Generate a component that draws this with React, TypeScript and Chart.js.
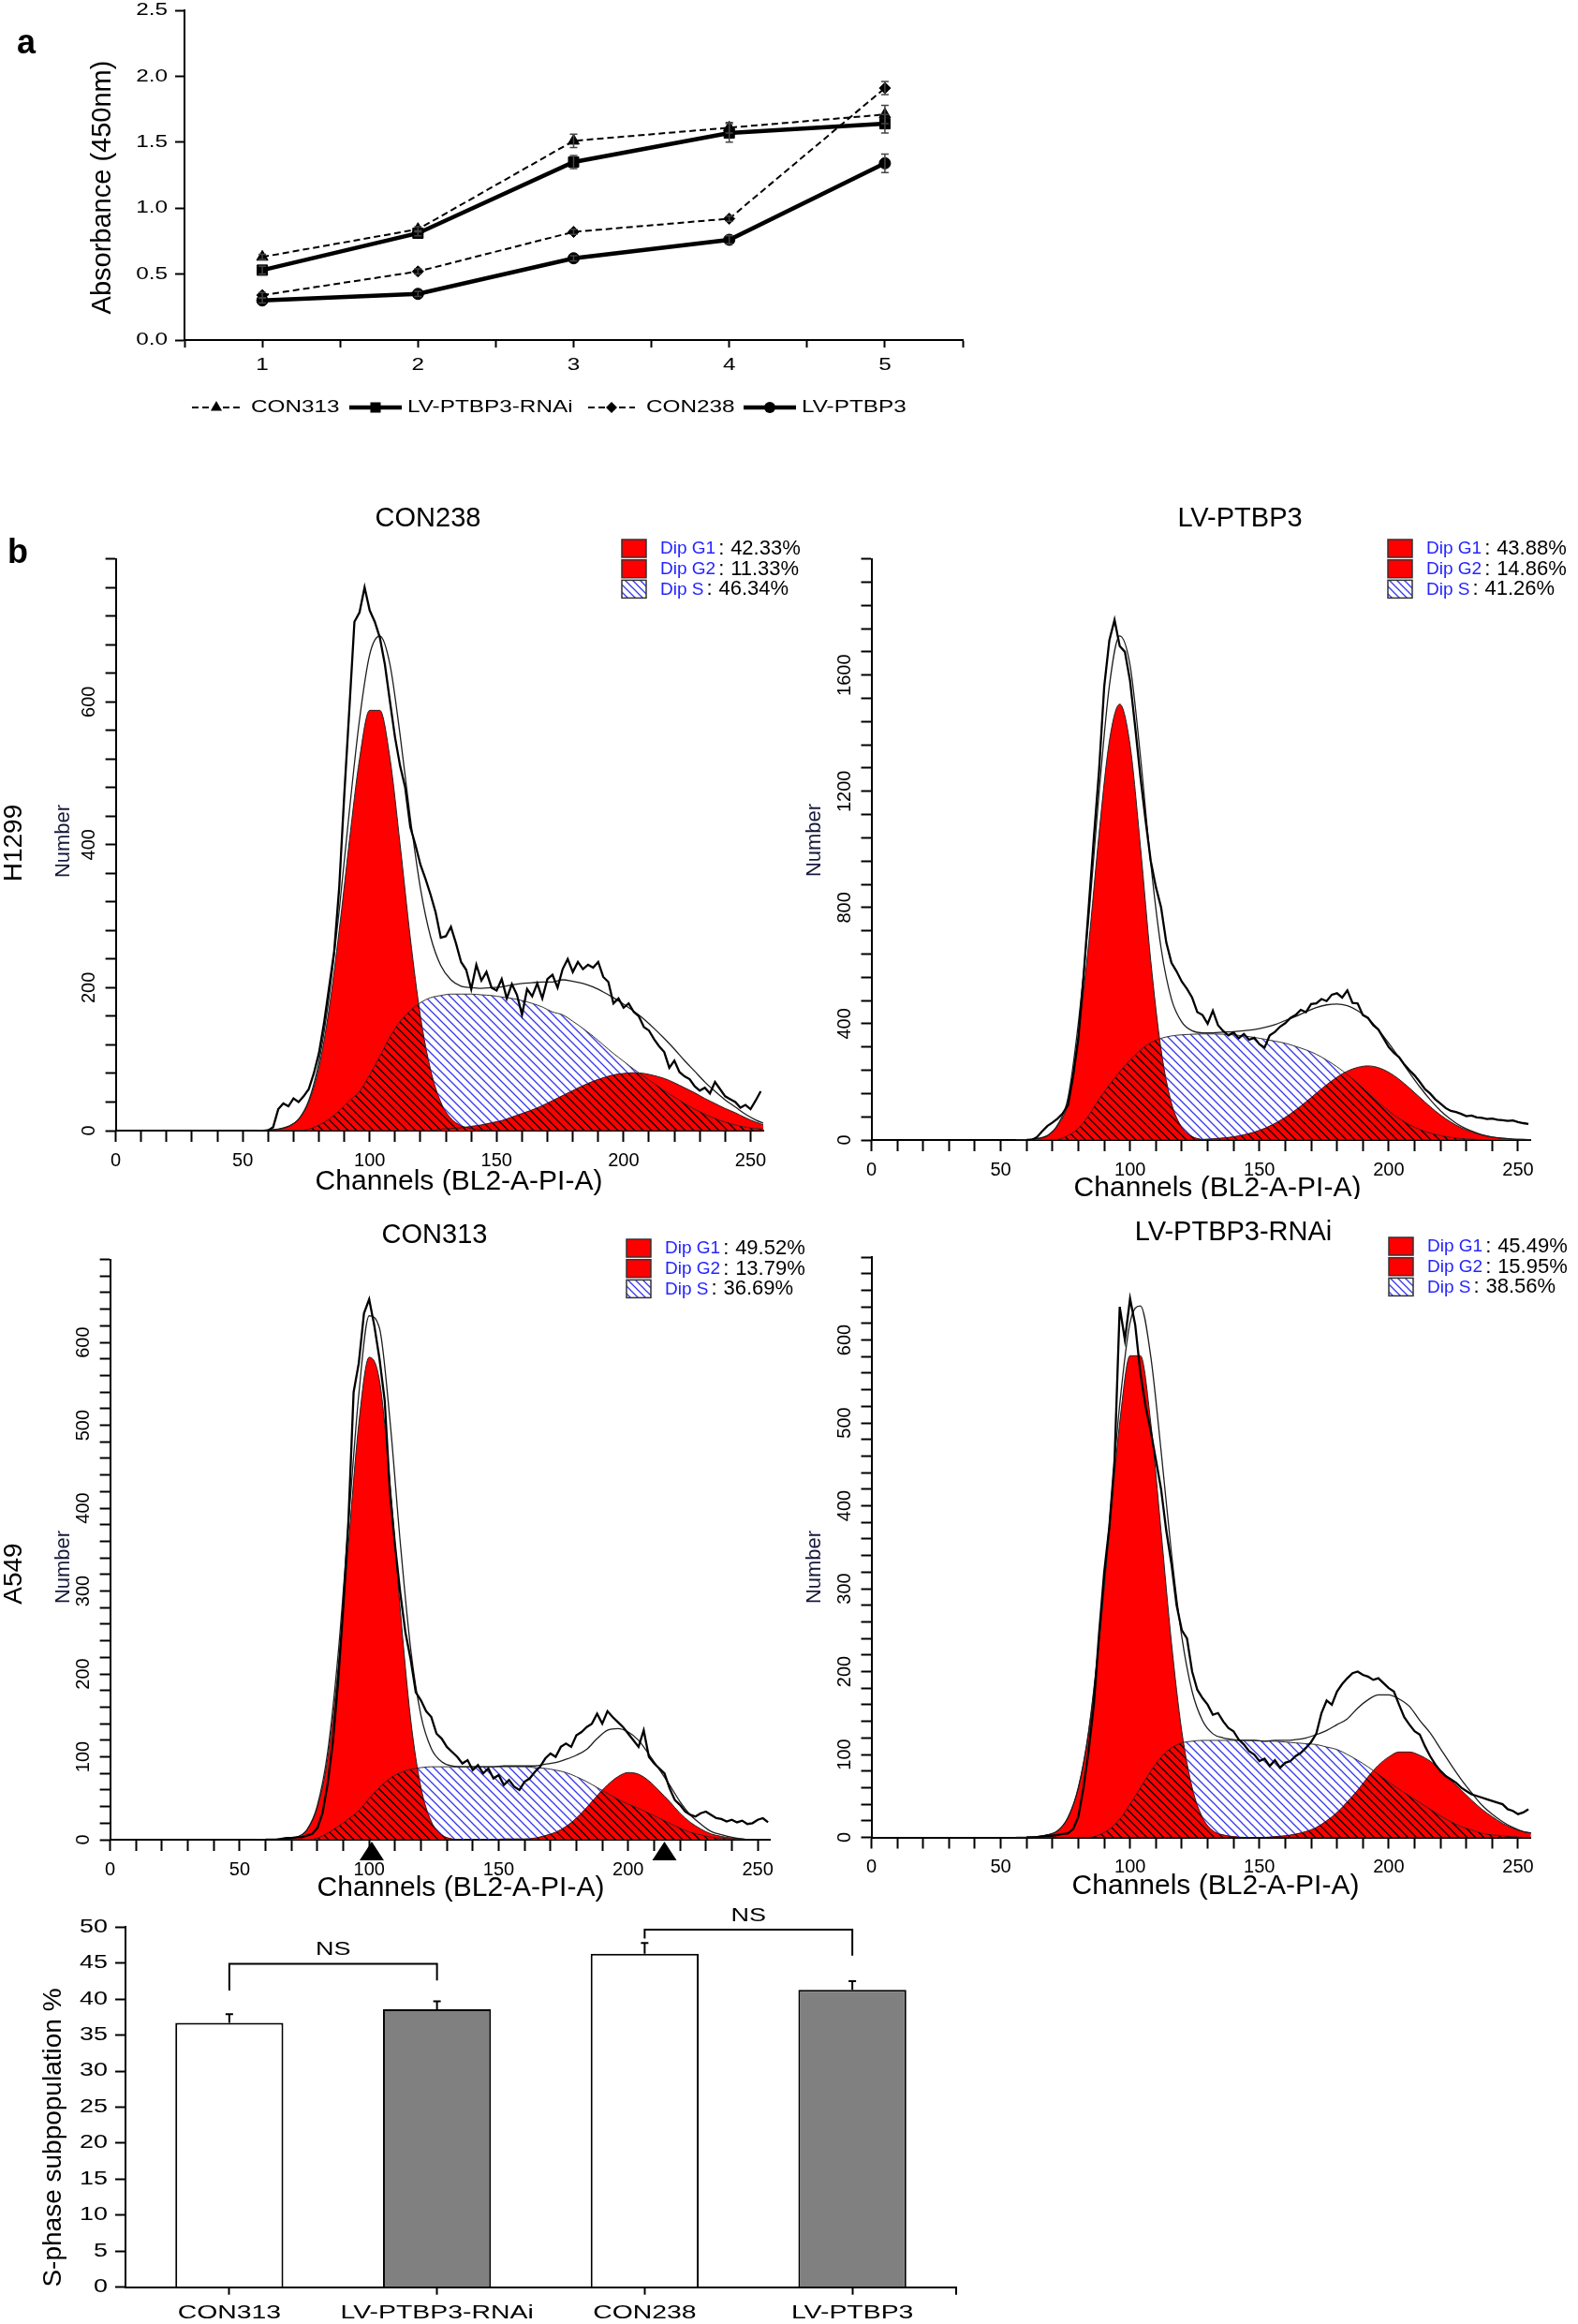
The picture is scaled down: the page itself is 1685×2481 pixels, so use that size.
import React, { useEffect, useRef } from 'react';
import { Chart, registerables } from 'chart.js';

Chart.register(...registerables);

const FONT = '"Liberation Sans", Arial, Helvetica, sans-serif';
Chart.defaults.font.family = FONT;
Chart.defaults.color = '#000';

/* ================= Panel a : growth curves ================= */
const DAYS = [1, 2, 3, 4, 5];
const OD_CON313 = [0.63, 0.84, 1.51, 1.61, 1.71];
const ERR_CON313 = [0.02, 0.02, 0.05, 0.04, 0.07];
const OD_RNAI = [0.53, 0.81, 1.35, 1.57, 1.64];
const ERR_RNAI = [0.03, 0.02, 0.05, 0.07, 0.07];
const OD_CON238 = [0.34, 0.52, 0.82, 0.92, 1.91];
const ERR_CON238 = [0.02, 0.02, 0.02, 0.02, 0.05];
const OD_LV = [0.3, 0.35, 0.62, 0.76, 1.34];
const ERR_LV = [0.02, 0.02, 0.02, 0.03, 0.07];
const OD_TICKS = [0, 0.5, 1, 1.5, 2, 2.5];

/* ================= Panel b : DNA histograms ================= */
const CHANNEL_TICKS = [0, 10, 20, 30, 40, 50, 60, 70, 80, 90, 100, 110, 120, 130, 140, 150, 160, 170, 180, 190, 200, 210, 220, 230, 240, 250];
const CH_FIT = [56, 60, 64, 68, 72, 76, 80, 84, 88, 92, 96, 100, 104, 108, 112, 116, 120, 124, 128, 132, 136, 140, 144, 148, 152, 156, 160, 164, 168, 172, 176, 180, 184, 188, 192, 196, 200, 204, 208, 212, 216, 220, 224, 228, 232, 236, 240, 244, 248, 252, 256];
const CH_RAW = [60, 62, 64, 66, 68, 70, 72, 74, 76, 78, 80, 82, 84, 86, 88, 90, 92, 94, 96, 98, 100, 102, 104, 106, 108, 110, 112, 114, 116, 118, 120, 122, 124, 126, 128, 130, 132, 134, 136, 138, 140, 142, 144, 146, 148, 150, 152, 154, 156, 158, 160, 162, 164, 166, 168, 170, 172, 174, 176, 178, 180, 182, 184, 186, 188, 190, 192, 194, 196, 198, 200, 202, 204, 206, 208, 210, 212, 214, 216, 218, 220, 222, 224, 226, 228, 230, 232, 234, 236, 238, 240, 242, 244, 246, 248, 250, 252, 254];
const PHASE_LABELS = ['Dip G1', 'Dip G2', 'Dip S'];

// H1299 CON238
const CON238_PCT = [42.33, 11.33, 46.34];
const CON238_G1 = [0, 1, 2, 6, 16, 40, 88, 170, 280, 405, 520, 588, 588, 521, 400, 270, 160, 85, 40, 17, 7, 3, 1, 0, 0, 0, 0, 0, 0, 0, 0, 0, 0, 0, 0, 0, 0, 0, 0, 0, 0, 0, 0, 0, 0, 0, 0, 0, 0, 0, 0];
const CON238_S = [0, 0, 0, 0, 0, 2, 8, 16, 28, 42, 55, 78, 104, 131, 153, 168, 179, 186, 189, 191, 191, 191, 190, 189, 187, 185, 182, 178, 173, 166, 162, 153, 143, 132, 120, 108, 97, 86, 76, 66, 56, 47, 38, 30, 23, 17, 12, 8, 5, 3, 2];
const CON238_G2 = [0, 0, 0, 0, 0, 0, 0, 0, 0, 0, 0, 0, 0, 0, 0, 0, 0, 0, 2, 3, 4, 6, 8, 11, 14, 19, 24, 29, 35, 42, 49, 56, 63, 69, 74, 78, 80, 81, 80, 77, 73, 67, 60, 53, 45, 38, 31, 25, 18, 12, 7];
const CON238_FIT = [0, 1, 2, 6, 16, 42, 96, 186, 308, 447, 575, 666, 692, 652, 553, 438, 339, 271, 231, 211, 202, 200, 199, 200, 201, 204, 206, 207, 208, 208, 211, 209, 206, 201, 194, 186, 177, 167, 156, 143, 129, 114, 98, 83, 68, 55, 43, 33, 23, 15, 9];
const CON238_RAW = [0, 5, 30, 38, 34, 45, 40, 48, 58, 80, 108, 150, 200, 250, 340, 470, 590, 712, 725, 760, 728, 712, 690, 652, 600, 550, 510, 480, 425, 400, 372, 352, 330, 305, 270, 272, 285, 262, 236, 225, 198, 232, 210, 222, 200, 196, 212, 185, 205, 190, 162, 198, 188, 206, 185, 212, 218, 200, 226, 240, 222, 236, 226, 232, 228, 236, 215, 208, 178, 185, 172, 178, 166, 160, 145, 140, 128, 118, 110, 88, 98, 82, 76, 72, 62, 56, 60, 52, 68, 58, 48, 44, 40, 32, 36, 30, 42, 55];

// H1299 LV-PTBP3
const LV_PCT = [43.88, 14.86, 41.26];
const LV_G1 = [0, 1, 5, 15, 50, 130, 363, 675, 1053, 1373, 1500, 1359, 1011, 617, 310, 127, 44, 12, 2, 0, 0, 0, 0, 0, 0, 0, 0, 0, 0, 0, 0, 0, 0, 0, 0, 0, 0, 0, 0, 0, 0, 0, 0, 0, 0, 0, 0, 0, 0, 0, 0];
const LV_S = [0, 0, 0, 0, 2, 15, 40, 85, 140, 190, 235, 275, 310, 335, 350, 358, 362, 364, 365, 365, 364, 362, 358, 353, 347, 340, 333, 322, 310, 295, 275, 252, 225, 195, 163, 130, 100, 74, 53, 36, 24, 15, 9, 5, 3, 1, 0, 0, 0, 0, 0];
const LV_G2 = [0, 0, 0, 0, 0, 0, 0, 0, 0, 0, 0, 0, 0, 0, 0, 0, 0, 0, 2, 4, 7, 11, 18, 27, 40, 57, 78, 103, 131, 161, 190, 216, 237, 250, 255, 249, 233, 209, 179, 147, 115, 86, 62, 42, 28, 17, 10, 6, 3, 2, 1];
const LV_FIT = [0, 1, 5, 15, 52, 145, 403, 760, 1193, 1563, 1735, 1634, 1321, 952, 660, 485, 406, 376, 369, 369, 371, 373, 376, 380, 387, 397, 411, 425, 441, 456, 465, 468, 462, 445, 418, 379, 333, 283, 232, 183, 139, 101, 71, 47, 31, 18, 10, 6, 3, 2, 1];
const LV_RAW = [0, 0, 10, 30, 48, 60, 74, 92, 120, 220, 350, 560, 800, 1040, 1270, 1560, 1720, 1790, 1700, 1680, 1580, 1420, 1250, 1100, 960, 870, 800, 680, 610, 580, 545, 520, 490, 440, 430, 400, 445, 395, 375, 360, 370, 350, 365, 345, 352, 330, 318, 360, 372, 390, 402, 420, 430, 448, 440, 468, 470, 485, 478, 500, 505, 490, 515, 472, 470, 430, 420, 395, 380, 350, 320, 300, 285, 260, 240, 222, 200, 175, 160, 140, 125, 110, 100, 96, 90, 82, 84, 78, 76, 72, 74, 70, 68, 66, 67, 62, 58, 55];

// A549 CON313
const CON313_PCT = [49.52, 13.79, 36.69];
const CON313_G1 = [0, 0, 0, 1, 3, 12, 39, 98, 207, 356, 502, 582, 554, 433, 278, 146, 63, 22, 6, 1, 0, 0, 0, 0, 0, 0, 0, 0, 0, 0, 0, 0, 0, 0, 0, 0, 0, 0, 0, 0, 0, 0, 0, 0, 0, 0, 0, 0, 0, 0, 0];
const CON313_S = [0, 0, 0, 0, 0, 0, 2, 8, 16, 25, 35, 50, 63, 74, 81, 85, 87, 88, 88, 88, 88, 88, 88, 88, 88, 88, 88, 87, 86, 84, 81, 76, 70, 63, 56, 49, 43, 38, 32, 26, 20, 14, 9, 6, 3, 2, 1, 0, 0, 0, 0];
const CON313_G2 = [0, 0, 0, 0, 0, 0, 0, 0, 0, 0, 0, 0, 0, 0, 0, 0, 0, 0, 0, 0, 0, 0, 0, 0, 1, 1, 1, 2, 5, 9, 16, 26, 39, 53, 66, 76, 81, 79, 71, 59, 46, 32, 21, 13, 7, 4, 2, 1, 0, 0, 0];
const CON313_FIT = [0, 0, 0, 1, 3, 12, 41, 106, 223, 381, 537, 632, 617, 507, 359, 231, 150, 110, 94, 89, 88, 88, 88, 88, 89, 89, 89, 89, 91, 93, 97, 102, 109, 122, 132, 134, 130, 120, 103, 85, 66, 46, 30, 19, 10, 6, 3, 1, 0, 0, 0];
const CON313_RAW = [0, 0, 0, 1, 2, 2, 3, 3, 5, 7, 14, 32, 68, 118, 190, 280, 385, 540, 575, 635, 652, 620, 580, 530, 420, 355, 298, 250, 218, 178, 168, 155, 148, 128, 122, 112, 106, 100, 92, 96, 84, 90, 80, 86, 74, 78, 66, 72, 64, 60, 70, 74, 82, 88, 98, 104, 100, 112, 116, 112, 126, 130, 136, 140, 152, 140, 155, 148, 142, 136, 128, 120, 112, 132, 100, 92, 86, 80, 62, 48, 42, 34, 30, 28, 32, 34, 30, 26, 25, 22, 24, 21, 23, 19, 20, 24, 26, 21];
const CON313_MARKERS = [101, 214];

// A549 LV-PTBP3-RNAi
const RNAI_PCT = [45.49, 15.95, 38.56];
const RNAI_G1 = [0, 0, 1, 3, 8, 24, 60, 128, 235, 369, 500, 581, 581, 500, 369, 235, 128, 60, 24, 8, 3, 1, 0, 0, 0, 0, 0, 0, 0, 0, 0, 0, 0, 0, 0, 0, 0, 0, 0, 0, 0, 0, 0, 0, 0, 0, 0, 0, 0, 0, 0];
const RNAI_S = [0, 0, 0, 0, 0, 0, 0, 0, 3, 10, 22, 40, 60, 80, 97, 108, 114, 116, 117, 117, 117, 117, 117, 117, 116, 116, 115, 114, 113, 112, 109, 106, 100, 93, 85, 76, 67, 58, 50, 42, 34, 26, 19, 13, 9, 5, 3, 2, 1, 0, 0];
const RNAI_G2 = [0, 0, 0, 0, 0, 0, 0, 0, 0, 0, 0, 0, 0, 0, 0, 0, 0, 0, 0, 0, 0, 0, 0, 0, 0, 1, 2, 4, 7, 12, 20, 30, 43, 57, 73, 87, 97, 103, 103, 99, 92, 81, 69, 57, 45, 34, 25, 17, 11, 7, 5];
const RNAI_FIT = [0, 0, 1, 3, 8, 24, 60, 128, 238, 379, 522, 621, 641, 580, 466, 343, 242, 176, 141, 125, 120, 118, 117, 117, 116, 117, 117, 118, 120, 124, 129, 136, 143, 156, 166, 172, 172, 167, 158, 141, 126, 107, 88, 70, 54, 39, 28, 19, 12, 7, 5];
const RNAI_RAW = [0, 0, 0, 1, 2, 2, 3, 4, 5, 10, 25, 60, 105, 160, 245, 320, 375, 455, 640, 600, 650, 618, 560, 520, 490, 455, 420, 370, 330, 280, 250, 240, 200, 178, 168, 160, 148, 150, 140, 132, 128, 118, 112, 104, 100, 92, 95, 86, 93, 84, 90, 92, 98, 102, 108, 115, 125, 150, 165, 160, 176, 185, 192, 198, 200, 196, 194, 190, 192, 186, 180, 176, 160, 145, 136, 128, 124, 110, 98, 88, 80, 74, 70, 66, 60, 56, 52, 50, 48, 46, 44, 42, 40, 34, 32, 28, 30, 34];

/* ================= S-phase bar chart ================= */
const BAR_CATS = ['CON313', 'LV-PTBP3-RNAi', 'CON238', 'LV-PTBP3'];
const S_PHASE = [36.7, 38.6, 46.3, 41.3];
const S_PHASE_ERR = [1.2, 1.1, 1.5, 1.2];
const BAR_TICKS = [0, 5, 10, 15, 20, 25, 30, 35, 40, 45, 50];
const NS_PAIRS = [[0, 1], [2, 3]];
const NS_BAR_Y = [44.9, 49.65];
const NS_LEFT_END = [41.2, 48.4];
const NS_RIGHT_END = [42.6, 46.05];
const NS_LABELS = ['NS', 'NS'];

/* ================= helpers ================= */
function txt(ctx: any, s: string, x: number, y: number, o: any = {}) {
  ctx.save();
  ctx.translate(x, y);
  if (o.rot) ctx.rotate(o.rot);
  if (o.sx) ctx.scale(o.sx, 1);
  ctx.font = `${o.bold ? 'bold ' : ''}${o.size || 20}px ${FONT}`;
  ctx.fillStyle = o.color || '#000';
  ctx.textAlign = o.align || 'center';
  ctx.textBaseline = o.baseline || 'middle';
  ctx.fillText(s, 0, 0);
  ctx.restore();
}

function hatch(line: string, bg: string | null, size: number, lw: number) {
  const c = document.createElement('canvas');
  c.width = size;
  c.height = size;
  const g = c.getContext('2d') as CanvasRenderingContext2D;
  if (bg) {
    g.fillStyle = bg;
    g.fillRect(0, 0, size, size);
  }
  g.strokeStyle = line;
  g.lineWidth = lw;
  g.beginPath();
  g.moveTo(-1, -1);
  g.lineTo(size + 1, size + 1);
  g.moveTo(-2, size - 2);
  g.lineTo(2, size + 2);
  g.moveTo(size - 2, -2);
  g.lineTo(size + 2, 2);
  g.stroke();
  return g.createPattern(c, 'repeat') as CanvasPattern;
}

function pts(xs: number[], ys: number[]) {
  return xs.map((x, i) => ({ x, y: ys[i] }));
}

function fixedLayout(box: any, area: any) {
  const a = { l: area.l - box.x, t: area.t - box.y, r: area.r - box.x, b: area.b - box.y };
  return {
    padding: { left: 0, top: a.t, right: box.w - a.r, bottom: 0 },
    yFit: (s: any) => {
      s.width = a.l;
    },
    xFit: (s: any) => {
      s.height = box.h - a.b;
    },
  };
}

function axisLook(tickLength: number) {
  return {
    grid: { display: true, drawOnChartArea: false, drawTicks: true, tickLength, tickWidth: 2, tickColor: '#000' },
    border: { display: true, color: '#000', width: 2 },
  };
}

function drawMarker(ctx: any, style: string, x: number, y: number, r: number) {
  ctx.save();
  ctx.fillStyle = '#000';
  ctx.beginPath();
  if (style === 'triangle') {
    ctx.moveTo(x, y - r);
    ctx.lineTo(x + r * 0.866, y + r * 0.5);
    ctx.lineTo(x - r * 0.866, y + r * 0.5);
  } else if (style === 'rect') {
    const s = r * Math.SQRT1_2;
    ctx.rect(x - s, y - s, 2 * s, 2 * s);
  } else if (style === 'rectRot') {
    ctx.moveTo(x, y - r);
    ctx.lineTo(x + r, y);
    ctx.lineTo(x, y + r);
    ctx.lineTo(x - r, y);
  } else {
    ctx.arc(x, y, r, 0, Math.PI * 2);
  }
  ctx.closePath();
  ctx.fill();
  ctx.restore();
}

/* ================= Panel a ================= */
function GrowthPanel() {
  const ref = useRef<HTMLCanvasElement>(null);
  useEffect(() => {
    const box = { x: 0, y: 0, w: 1100, h: 470 };
    const lay = fixedLayout(box, { l: 197, t: 11, r: 1028, b: 363 });
    const series = [
      { label: 'CON313', v: OD_CON313, e: ERR_CON313, dash: true, style: 'triangle', r: 7 },
      { label: 'LV-PTBP3-RNAi', v: OD_RNAI, e: ERR_RNAI, dash: false, style: 'rect', r: 7.8 },
      { label: 'CON238', v: OD_CON238, e: ERR_CON238, dash: true, style: 'rectRot', r: 6 },
      { label: 'LV-PTBP3', v: OD_LV, e: ERR_LV, dash: false, style: 'circle', r: 6 },
    ];
    const legendPos = [
      { x0: 205, x1: 258, mx: 231, tx: 268 },
      { x0: 373, x1: 429, mx: 401, tx: 435 },
      { x0: 628, x1: 678, mx: 653, tx: 690 },
      { x0: 794, x1: 850, mx: 822, tx: 856 },
    ];
    const deco = {
      id: 'growthDeco',
      afterDatasetsDraw(chart: any) {
        const ctx = chart.ctx;
        const xs = chart.scales.x;
        const ys = chart.scales.y;
        ctx.save();
        ctx.strokeStyle = '#444';
        ctx.lineWidth = 1.5;
        series.forEach((s) => {
          s.v.forEach((v, j) => {
            const x = xs.getPixelForValue(DAYS[j]);
            const y1 = ys.getPixelForValue(v - s.e[j]);
            const y2 = ys.getPixelForValue(v + s.e[j]);
            ctx.beginPath();
            ctx.moveTo(x, y1);
            ctx.lineTo(x, y2);
            ctx.moveTo(x - 4, y1);
            ctx.lineTo(x + 4, y1);
            ctx.moveTo(x - 4, y2);
            ctx.lineTo(x + 4, y2);
            ctx.stroke();
          });
        });
        ctx.restore();
      },
      afterDraw(chart: any) {
        const ctx = chart.ctx;
        const ca = chart.chartArea;
        const xs = chart.scales.x;
        const ys = chart.scales.y;
        OD_TICKS.forEach((t) => {
          txt(ctx, t.toFixed(1), ca.left - 18, ys.getPixelForValue(t), { size: 19, sx: 1.28, align: 'right' });
        });
        DAYS.forEach((d) => {
          txt(ctx, String(d), xs.getPixelForValue(d), ca.bottom + 27, { size: 19, sx: 1.28 });
        });
        txt(ctx, 'Absorbance (450nm)', 110, 200, { size: 29, rot: -Math.PI / 2 });
        txt(ctx, 'a', 28, 47, { size: 36, bold: true });
        const ly = 435;
        series.forEach((s, i) => {
          const p = legendPos[i];
          ctx.save();
          ctx.strokeStyle = '#000';
          ctx.lineWidth = s.dash ? 2 : 4.5;
          ctx.setLineDash(s.dash ? [7, 4] : []);
          ctx.beginPath();
          ctx.moveTo(p.x0, ly);
          ctx.lineTo(p.x1, ly);
          ctx.stroke();
          ctx.restore();
          drawMarker(ctx, s.style, p.mx, ly, s.r);
          txt(ctx, s.label, p.tx, ly, { size: 19, sx: 1.28, align: 'left' });
        });
      },
    };
    const chart = new Chart(ref.current as HTMLCanvasElement, {
      type: 'line',
      data: {
        datasets: series.map((s) => ({
          label: s.label,
          data: pts(DAYS, s.v),
          borderColor: '#000',
          backgroundColor: '#000',
          borderWidth: s.dash ? 2 : 4.5,
          borderDash: s.dash ? [7, 4] : [],
          pointStyle: s.style,
          pointRadius: s.r,
          pointBackgroundColor: '#000',
          pointBorderColor: '#000',
          pointBorderWidth: 1,
          fill: false,
          tension: 0,
        })),
      },
      options: {
        animation: false,
        responsive: false,
        devicePixelRatio: 1,
        events: [],
        layout: { padding: lay.padding },
        plugins: { legend: { display: false }, tooltip: { enabled: false }, title: { display: false } },
        scales: {
          x: {
            type: 'linear',
            min: 0.5,
            max: 5.5,
            afterFit: lay.xFit,
            ticks: { stepSize: 0.5, display: false },
            ...axisLook(8),
          },
          y: {
            type: 'linear',
            min: 0,
            max: 2.5,
            afterFit: lay.yFit,
            ticks: { stepSize: 0.5, display: false },
            ...axisLook(10),
          },
        },
      } as any,
      plugins: [deco],
    } as any);
    return () => chart.destroy();
  }, []);
  return <canvas ref={ref} width={1100} height={470} style={{ position: 'absolute', left: 0, top: 0, width: 1100, height: 470 }} />;
}

/* ================= Panel b histograms ================= */
const HIST_PANELS = [
  {
    title: 'CON238', side: 'H1299', letter: 'b',
    box: { x: 0, y: 520, w: 900, h: 760 }, area: { l: 123.6, t: 596.6, r: 815, b: 1207 },
    yMax: 800, yStep: 40, yMajor: 200,
    g1: CON238_G1, s: CON238_S, g2: CON238_G2, fit: CON238_FIT, raw: CON238_RAW, pct: CON238_PCT, markers: [] as number[],
    legend: { x: 664, y: 576 }, titlePos: [457, 554], numberPos: [68, 898], chanPos: [490, 1262], sidePos: [15, 900], letterPos: [19, 591],
  },
  {
    title: 'LV-PTBP3', side: '', letter: '',
    box: { x: 840, y: 520, w: 845, h: 760 }, area: { l: 930.5, t: 596.6, r: 1634.8, b: 1217 },
    yMax: 2000, yStep: 80, yMajor: 400,
    g1: LV_G1, s: LV_S, g2: LV_G2, fit: LV_FIT, raw: LV_RAW, pct: LV_PCT, markers: [] as number[],
    legend: { x: 1482, y: 576 }, titlePos: [1324, 554], numberPos: [870, 897], chanPos: [1300, 1269], sidePos: [0, 0], letterPos: [0, 0],
  },
  {
    title: 'CON313', side: 'A549', letter: '',
    box: { x: 0, y: 1280, w: 900, h: 760 }, area: { l: 117.6, t: 1344.6, r: 822.9, b: 1964 },
    yMax: 700, yStep: 20, yMajor: 100,
    g1: CON313_G1, s: CON313_S, g2: CON313_G2, fit: CON313_FIT, raw: CON313_RAW, pct: CON313_PCT, markers: CON313_MARKERS,
    legend: { x: 669, y: 1323 }, titlePos: [464, 1319], numberPos: [68, 1673], chanPos: [492, 2016], sidePos: [15, 1680], letterPos: [0, 0],
  },
  {
    title: 'LV-PTBP3-RNAi', side: '', letter: '',
    box: { x: 840, y: 1280, w: 845, h: 760 }, area: { l: 930.5, t: 1342, r: 1634.8, b: 1961.5 },
    yMax: 700, yStep: 20, yMajor: 100,
    g1: RNAI_G1, s: RNAI_S, g2: RNAI_G2, fit: RNAI_FIT, raw: RNAI_RAW, pct: RNAI_PCT, markers: [] as number[],
    legend: { x: 1483, y: 1321 }, titlePos: [1317, 1316], numberPos: [870, 1673], chanPos: [1298, 2014], sidePos: [0, 0], letterPos: [0, 0],
  },
];

function Histogram({ spec }: any) {
  const ref = useRef<HTMLCanvasElement>(null);
  useEffect(() => {
    const box = spec.box;
    const ox = box.x;
    const oy = box.y;
    const lay = fixedLayout(box, spec.area);
    const blueHatch = hatch('#3636ee', null, 9, 1.3);
    const redHatch = hatch('#000000', '#ff0000', 9, 1.3);
    const boxHatch = hatch('#3636ee', '#ffffff', 8, 1.3);
    const S_IDX = 2;
    const G2_IDX = 3;
    const G1_IDX = 4;
    const areaPath = (chart: any, ctx: any, idx: number, y0: number) => {
      const meta = chart.getDatasetMeta(idx);
      const p = meta.data;
      meta.dataset.path(ctx);
      ctx.lineTo(p[p.length - 1].x, y0);
      ctx.lineTo(p[0].x, y0);
      ctx.closePath();
    };
    const deco = {
      id: 'histDeco',
      afterDatasetDraw(chart: any, args: any) {
        if (args.index !== S_IDX) return;
        const ctx = chart.ctx;
        const ca = chart.chartArea;
        const y0 = chart.scales.y.getPixelForValue(0);
        ctx.save();
        ctx.beginPath();
        ctx.rect(ca.left, ca.top, ca.right - ca.left, ca.bottom - ca.top);
        ctx.clip();
        ctx.beginPath();
        areaPath(chart, ctx, S_IDX, y0);
        ctx.clip();
        ctx.beginPath();
        areaPath(chart, ctx, G2_IDX, y0);
        areaPath(chart, ctx, G1_IDX, y0);
        ctx.clip();
        ctx.fillStyle = redHatch;
        ctx.fillRect(ca.left, ca.top, ca.right - ca.left, ca.bottom - ca.top);
        ctx.strokeStyle = '#222';
        ctx.lineWidth = 1;
        [S_IDX, G2_IDX, G1_IDX].forEach((i) => {
          ctx.beginPath();
          chart.getDatasetMeta(i).dataset.path(ctx);
          ctx.stroke();
        });
        ctx.restore();
      },
      afterDraw(chart: any) {
        const ctx = chart.ctx;
        const ca = chart.chartArea;
        const ys = chart.scales.y;
        const xs = chart.scales.x;
        ys.ticks.forEach((t: any) => {
          if (t.value % spec.yMajor === 0 && t.value < spec.yMax) {
            txt(ctx, String(t.value), ca.left - 28, ys.getPixelForValue(t.value), { size: 20, rot: -Math.PI / 2 });
          }
        });
        txt(ctx, 'Number', spec.numberPos[0] - ox, spec.numberPos[1] - oy, { size: 22, rot: -Math.PI / 2, color: '#16163a' });
        txt(ctx, spec.title, spec.titlePos[0] - ox, spec.titlePos[1] - oy, { size: 29 });
        txt(ctx, 'Channels (BL2-A-PI-A)', spec.chanPos[0] - ox, spec.chanPos[1] - oy, { size: 30 });
        if (spec.side) txt(ctx, spec.side, spec.sidePos[0] - ox, spec.sidePos[1] - oy, { size: 28, rot: -Math.PI / 2 });
        if (spec.letter) txt(ctx, spec.letter, spec.letterPos[0] - ox, spec.letterPos[1] - oy, { size: 36, bold: true });
        const lx = spec.legend.x - ox;
        const ly = spec.legend.y - oy;
        PHASE_LABELS.forEach((lab, i) => {
          const by = ly + i * 21.7;
          ctx.save();
          ctx.fillStyle = i < 2 ? '#ff0000' : boxHatch;
          ctx.fillRect(lx, by, 26, 19);
          ctx.strokeStyle = '#333';
          ctx.lineWidth = 1.5;
          ctx.strokeRect(lx, by, 26, 19);
          ctx.font = `19px ${FONT}`;
          const w = ctx.measureText(lab).width;
          ctx.restore();
          const cy = by + 10;
          txt(ctx, lab, lx + 41, cy, { size: 19, align: 'left', color: '#2424ff' });
          txt(ctx, ':', lx + 41 + w + 3, cy, { size: 22, align: 'left' });
          txt(ctx, `${spec.pct[i].toFixed(2)}%`, lx + 41 + w + 16, cy, { size: 22, align: 'left' });
        });
        spec.markers.forEach((c: number) => {
          const x = xs.getPixelForValue(c);
          ctx.save();
          ctx.fillStyle = '#000';
          ctx.beginPath();
          ctx.moveTo(x, ca.bottom + 2);
          ctx.lineTo(x + 13, ca.bottom + 22);
          ctx.lineTo(x - 13, ca.bottom + 22);
          ctx.closePath();
          ctx.fill();
          ctx.restore();
        });
      },
    };
    const comp = (data: number[], color: string, bg: any, fill: boolean) => ({
      data: pts(CH_FIT, data),
      borderColor: color,
      borderWidth: 1,
      backgroundColor: bg,
      pointRadius: 0,
      fill: fill ? 'origin' : false,
      cubicInterpolationMode: 'monotone',
    });
    const chart = new Chart(ref.current as HTMLCanvasElement, {
      type: 'line',
      data: {
        datasets: [
          { data: pts(CH_RAW, spec.raw), borderColor: '#000', borderWidth: 2.3, pointRadius: 0, fill: false, tension: 0 },
          { ...comp(spec.fit, '#1e1e1e', 'transparent', false), borderWidth: 1.3 },
          comp(spec.s, '#333', blueHatch, true),
          comp(spec.g2, '#222', '#ff0000', true),
          comp(spec.g1, '#222', '#ff0000', true),
        ],
      },
      options: {
        animation: false,
        responsive: false,
        devicePixelRatio: 1,
        events: [],
        layout: { padding: lay.padding },
        plugins: { legend: { display: false }, tooltip: { enabled: false }, title: { display: false } },
        scales: {
          x: {
            type: 'linear',
            min: 0,
            max: 255,
            afterFit: lay.xFit,
            afterBuildTicks: (s: any) => {
              s.ticks = CHANNEL_TICKS.map((v) => ({ value: v }));
            },
            ticks: {
              stepSize: 10,
              autoSkip: false,
              maxRotation: 0,
              minRotation: 0,
              padding: 8,
              color: '#000',
              font: { size: 20, family: FONT },
              callback: (v: any) => (v % 50 === 0 ? String(v) : ''),
            },
            ...axisLook(12),
          },
          y: {
            type: 'linear',
            min: 0,
            max: spec.yMax,
            afterFit: lay.yFit,
            ticks: { stepSize: spec.yStep, display: false },
            ...axisLook(11),
          },
        },
      } as any,
      plugins: [deco],
    } as any);
    return () => chart.destroy();
  }, []);
  return (
    <canvas
      ref={ref}
      width={spec.box.w}
      height={spec.box.h}
      style={{ position: 'absolute', left: spec.box.x, top: spec.box.y, width: spec.box.w, height: spec.box.h }}
    />
  );
}

/* ================= Bar chart ================= */
function BarPanel() {
  const ref = useRef<HTMLCanvasElement>(null);
  useEffect(() => {
    const box = { x: 0, y: 2030, w: 1100, h: 451 };
    const lay = fixedLayout(box, { l: 134, t: 2057.3, r: 1021, b: 2441.7 });
    const deco = {
      id: 'barDeco',
      afterDatasetsDraw(chart: any) {
        const ctx = chart.ctx;
        const xs = chart.scales.x;
        const ys = chart.scales.y;
        ctx.save();
        ctx.strokeStyle = '#000';
        ctx.lineWidth = 2;
        S_PHASE.forEach((v, i) => {
          const x = xs.getPixelForValue(i);
          const y1 = ys.getPixelForValue(v);
          const y2 = ys.getPixelForValue(v + S_PHASE_ERR[i]);
          ctx.beginPath();
          ctx.moveTo(x, y1);
          ctx.lineTo(x, y2);
          ctx.moveTo(x - 4, y2);
          ctx.lineTo(x + 4, y2);
          ctx.stroke();
        });
        NS_PAIRS.forEach((pair, k) => {
          const xa = xs.getPixelForValue(pair[0]);
          const xb = xs.getPixelForValue(pair[1]);
          const yTop = ys.getPixelForValue(NS_BAR_Y[k]);
          ctx.beginPath();
          ctx.moveTo(xa, ys.getPixelForValue(NS_LEFT_END[k]));
          ctx.lineTo(xa, yTop);
          ctx.lineTo(xb, yTop);
          ctx.lineTo(xb, ys.getPixelForValue(NS_RIGHT_END[k]));
          ctx.stroke();
          txt(ctx, NS_LABELS[k], (xa + xb) / 2, yTop - 15, { size: 20, sx: 1.35 });
        });
        ctx.restore();
      },
      afterDraw(chart: any) {
        const ctx = chart.ctx;
        const ca = chart.chartArea;
        const xs = chart.scales.x;
        const ys = chart.scales.y;
        BAR_TICKS.forEach((t) => {
          txt(ctx, String(t), ca.left - 19, ys.getPixelForValue(t), { size: 19.5, sx: 1.38, align: 'right' });
        });
        BAR_CATS.forEach((c, i) => {
          txt(ctx, c, xs.getPixelForValue(i), ca.bottom + 28, { size: 20, sx: 1.42 });
        });
        txt(ctx, 'S-phase subpopulation %', 57, 252, { size: 28, rot: -Math.PI / 2 });
        ctx.save();
        ctx.strokeStyle = '#000';
        ctx.lineWidth = 2;
        ctx.beginPath();
        ctx.moveTo(ca.right, ca.bottom);
        ctx.lineTo(ca.right, ca.bottom + 8);
        ctx.stroke();
        ctx.restore();
      },
    };
    const chart = new Chart(ref.current as HTMLCanvasElement, {
      type: 'bar',
      data: {
        labels: BAR_CATS,
        datasets: [
          {
            data: S_PHASE,
            backgroundColor: ['#ffffff', '#808080', '#ffffff', '#808080'],
            borderColor: '#000',
            borderWidth: 2,
            barPercentage: 0.52,
            categoryPercentage: 1,
          },
        ],
      },
      options: {
        animation: false,
        responsive: false,
        devicePixelRatio: 1,
        events: [],
        layout: { padding: lay.padding },
        plugins: { legend: { display: false }, tooltip: { enabled: false }, title: { display: false } },
        scales: {
          x: {
            type: 'category',
            offset: true,
            afterFit: lay.xFit,
            ticks: { display: false },
            grid: { display: true, offset: false, drawOnChartArea: false, drawTicks: true, tickLength: 8, tickWidth: 2, tickColor: '#000' },
            border: { display: true, color: '#000', width: 2 },
          },
          y: {
            type: 'linear',
            min: 0,
            max: 50,
            afterFit: lay.yFit,
            ticks: { stepSize: 5, display: false },
            ...axisLook(11),
          },
        },
      } as any,
      plugins: [deco],
    } as any);
    return () => chart.destroy();
  }, []);
  return <canvas ref={ref} width={1100} height={451} style={{ position: 'absolute', left: 0, top: 2030, width: 1100, height: 451 }} />;
}

export default function App() {
  return (
    <div style={{ position: 'absolute', left: 0, top: 0, width: 1685, height: 2481, background: '#ffffff', overflow: 'hidden' }}>
      <GrowthPanel />
      {HIST_PANELS.map((p, i) => (
        <Histogram key={i} spec={p} />
      ))}
      <BarPanel />
    </div>
  );
}
